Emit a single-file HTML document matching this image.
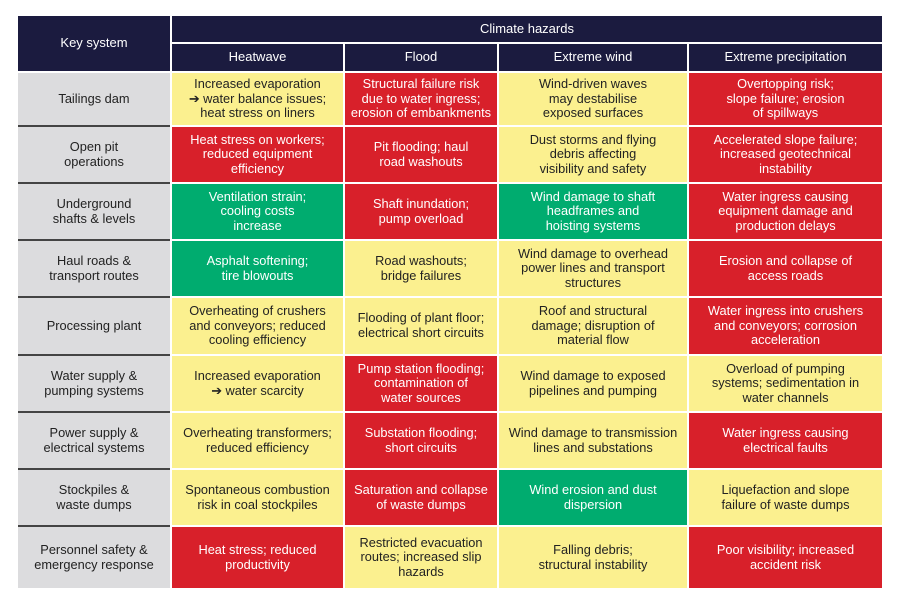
<!DOCTYPE html>
<html><head><style>
body{margin:0;width:900px;height:603px;background:#fff;position:relative;overflow:hidden;font-family:"Liberation Sans",sans-serif}
.c{position:absolute;display:flex;align-items:center;justify-content:center;text-align:center;font-size:12.8px;line-height:14.6px;box-sizing:border-box;padding:0 2px;white-space:nowrap}
.h{background:#1b1b3f;color:#fff;font-size:13px}
.k{background:#dcdcde;color:#222}
.y{background:#fbf08f;color:#222}
.r{background:#d8202a;color:#fff}
.g{background:#00ac6f;color:#fff}
.sep{position:absolute;left:18px;width:152px;height:2px;background:#444}
</style></head><body>
<div class="c h" style="left:18px;top:16px;width:152px;height:55px">Key system</div>
<div class="c h" style="left:172px;top:16px;width:710px;height:26px">Climate hazards</div>
<div class="c h" style="left:172px;top:44px;width:171px;height:27px">Heatwave</div>
<div class="c h" style="left:345px;top:44px;width:152px;height:27px">Flood</div>
<div class="c h" style="left:499px;top:44px;width:188px;height:27px">Extreme wind</div>
<div class="c h" style="left:689px;top:44px;width:193px;height:27px">Extreme precipitation</div>
<div id="rows"></div>
<script>
const rows=[
[73,125,"Tailings dam",["y","Increased evaporation<br>➔ water balance issues;<br>heat stress on liners"],["r","Structural failure risk<br>due to water ingress;<br>erosion of embankments"],["y","Wind-driven waves<br>may destabilise<br>exposed surfaces"],["r","Overtopping risk;<br>slope failure; erosion<br>of spillways"]],
[127,182,"Open pit<br>operations",["r","Heat stress on workers;<br>reduced equipment<br>efficiency"],["r","Pit flooding; haul<br>road washouts"],["y","Dust storms and flying<br>debris affecting<br>visibility and safety"],["r","Accelerated slope failure;<br>increased geotechnical<br>instability"]],
[184,239,"Underground<br>shafts &amp; levels",["g","Ventilation strain;<br>cooling costs<br>increase"],["r","Shaft inundation;<br>pump overload"],["g","Wind damage to shaft<br>headframes and<br>hoisting systems"],["r","Water ingress causing<br>equipment damage and<br>production delays"]],
[241,296,"Haul roads &amp;<br>transport routes",["g","Asphalt softening;<br>tire blowouts"],["y","Road washouts;<br>bridge failures"],["y","Wind damage to overhead<br>power lines and transport<br>structures"],["r","Erosion and collapse of<br>access roads"]],
[298,354,"Processing plant",["y","Overheating of crushers<br>and conveyors; reduced<br>cooling efficiency"],["y","Flooding of plant floor;<br>electrical short circuits"],["y","Roof and structural<br>damage; disruption of<br>material flow"],["r","Water ingress into crushers<br>and conveyors; corrosion<br>acceleration"]],
[356,411,"Water supply &amp;<br>pumping systems",["y","Increased evaporation<br>➔ water scarcity"],["r","Pump station flooding;<br>contamination of<br>water sources"],["y","Wind damage to exposed<br>pipelines and pumping"],["y","Overload of pumping<br>systems; sedimentation in<br>water channels"]],
[413,468,"Power supply &amp;<br>electrical systems",["y","Overheating transformers;<br>reduced efficiency"],["r","Substation flooding;<br>short circuits"],["y","Wind damage to transmission<br>lines and substations"],["r","Water ingress causing<br>electrical faults"]],
[470,525,"Stockpiles &amp;<br>waste dumps",["y","Spontaneous combustion<br>risk in coal stockpiles"],["r","Saturation and collapse<br>of waste dumps"],["g","Wind erosion and dust<br>dispersion"],["y","Liquefaction and slope<br>failure of waste dumps"]],
[527,588,"Personnel safety &amp;<br>emergency response",["r","Heat stress; reduced<br>productivity"],["y","Restricted evacuation<br>routes; increased slip<br>hazards"],["y","Falling debris;<br>structural instability"],["r","Poor visibility; increased<br>accident risk"]]];
const cols=[[172,171],[345,152],[499,188],[689,193]];
let h="";
rows.forEach((r,i)=>{const t=r[0],ht=r[1]-r[0];
h+=`<div class="c k" style="left:18px;top:${t}px;width:152px;height:${ht}px">${r[2]}</div>`;
if(i>0)h+=`<div class="sep" style="top:${t-2}px"></div>`;
for(let j=0;j<4;j++){const c=r[3+j];h+=`<div class="c ${c[0]}" style="left:${cols[j][0]}px;top:${t}px;width:${cols[j][1]}px;height:${ht}px">${c[1]}</div>`;}
});
document.getElementById("rows").innerHTML=h;
</script>
</body></html>
